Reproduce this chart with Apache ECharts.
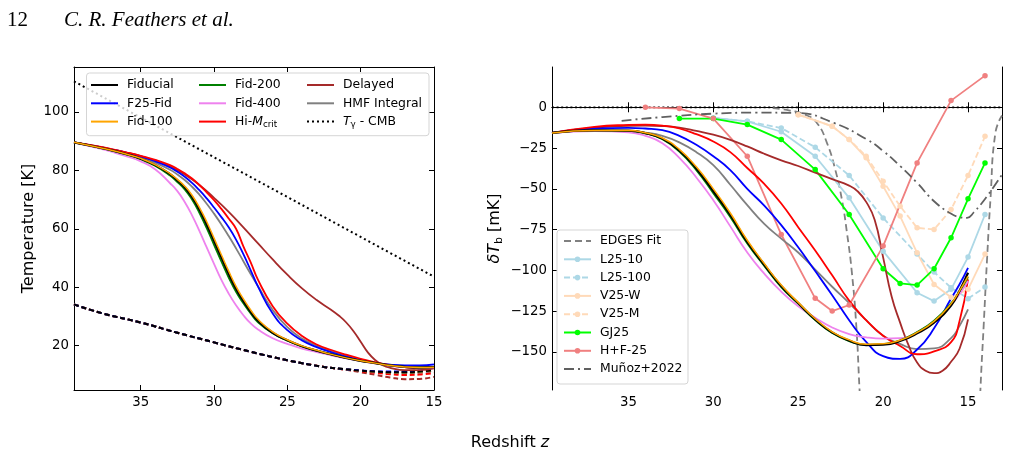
<!DOCTYPE html>
<html>
<head>
<meta charset="utf-8">
<script src="https://cdn.jsdelivr.net/npm/echarts@6/dist/echarts.min.js"></script>
<style>html,body{margin:0;padding:0;background:#fff}#main{width:1009px;height:456px}</style>
</head>
<body>
<div id="main"></div>
<script>
var FONT = 'DejaVu Sans';

// ---- left panel: temperatures [K] ----
var zLeft = [39.55, 38, 37, 36, 35, 34, 33, 32.5, 32, 31.5, 31, 30.5, 30, 29.5, 29, 28.5, 28, 27.5, 27, 26, 25, 24, 23, 22, 21, 20, 19, 18, 17, 16, 15];
var tFiducial = [89.6, 88.0, 86.9, 85.6, 84.0, 81.8, 78.7, 76.6, 74.2, 70.9, 66.6, 61.5, 55.9, 50.2, 44.6, 39.5, 35.3, 31.6, 28.5, 24.4, 21.8, 19.8, 18.3, 17.0, 15.8, 14.8, 14.0, 13.2, 12.7, 12.5, 12.6];
var tF25 = [89.6, 88.2, 87.2, 86.1, 84.8, 83.1, 81.0, 79.5, 77.8, 75.7, 73.2, 70.4, 67.3, 64.0, 60.5, 56.3, 51.3, 45.8, 40.2, 31.0, 25.3, 21.8, 19.5, 17.7, 16.2, 15.0, 14.1, 13.5, 13.2, 13.2, 13.6];
var tFid100 = [89.6, 88.0, 86.9, 85.6, 84.1, 81.9, 78.9, 76.9, 74.6, 71.5, 67.3, 62.4, 56.8, 51.1, 45.5, 40.3, 36.0, 32.2, 29.0, 24.7, 22.0, 19.9, 18.4, 17.0, 15.8, 14.8, 14.0, 13.2, 12.7, 12.5, 12.6];
var tFid200 = [89.6, 88.0, 86.8, 85.5, 83.8, 81.5, 78.2, 76.0, 73.5, 70.0, 65.5, 60.2, 54.5, 48.8, 43.3, 38.4, 34.5, 31.0, 28.0, 24.2, 21.7, 19.7, 18.3, 17.0, 15.8, 14.8, 14.0, 13.2, 12.7, 12.5, 12.6];
var tFid400 = [89.6, 87.7, 86.4, 84.9, 83.1, 80.3, 75.6, 72.9, 69.2, 64.6, 59.3, 53.6, 48.0, 42.5, 37.8, 33.8, 30.4, 27.6, 25.5, 22.5, 20.6, 19.0, 17.8, 16.7, 15.6, 14.7, 13.9, 13.1, 12.6, 12.4, 12.5];
var tHiM = [89.6, 88.3, 87.3, 86.2, 85.0, 83.6, 81.8, 80.5, 79.0, 77.2, 75.0, 72.5, 69.8, 66.8, 63.5, 60.0, 54.0, 48.5, 42.5, 33.5, 27.5, 23.3, 20.4, 18.5, 16.9, 15.5, 14.3, 13.3, 12.6, 12.3, 12.4];
var tHMF = [89.6, 88.1, 87.0, 85.9, 84.5, 82.6, 80.2, 78.6, 76.7, 74.4, 71.7, 68.6, 65.2, 61.5, 57.5, 53.3, 48.9, 44.5, 40.3, 32.2, 26.3, 22.4, 20.0, 18.1, 16.5, 15.2, 14.2, 13.4, 12.9, 12.7, 12.8];
var zDelayed = [39.55, 38, 37, 36, 35, 34, 33, 32, 31, 30, 29, 28, 27, 26, 25, 24, 23, 22, 21.5, 21, 20.5, 20, 19.5, 19, 18.5, 18, 17, 16, 15];
var tDelayed = [89.6, 88.2, 87.2, 86.1, 84.9, 83.3, 81.3, 78.6, 75.0, 70.6, 65.8, 60.5, 55.0, 49.5, 44.3, 39.6, 35.6, 32.2, 30.3, 28.0, 25.0, 21.3, 17.6, 15.0, 13.3, 12.4, 11.6, 11.6, 12.2];
var zCMB = [39.55, 35, 30, 25, 20, 15];
var tCMB = [110.5, 98.1, 84.5, 70.9, 57.2, 43.6];
// dashed curves: shared early part, then one tail per model
var zDash = [39.55, 37.5, 35, 32.5, 30, 27.5, 25, 22.5, 21, 20, 19, 18, 17, 16, 15];
var dashHead = [34.1, 30.9, 27.9, 24.4, 21.1, 17.9, 15.0, 12.7];
var tailFiducial = [11.9, 11.4, 11.1, 10.9, 10.9, 11.1, 11.6];
var tailF25 = [11.9, 11.5, 11.2, 11.1, 11.2, 11.5, 12.1];
var tailFid400 = [11.9, 11.4, 11.1, 10.9, 10.9, 11.1, 11.5];
var tailHiM = [11.8, 11.2, 10.7, 10.2, 9.95, 10.1, 10.6];
var tailDelayed = [11.7, 10.9, 10.0, 9.1, 8.5, 8.6, 9.3];
var tailHMF = [11.8, 11.3, 10.9, 10.6, 10.5, 10.7, 11.2];

// ---- right panel: brightness temperature [mK] ----
var zRight = [39.5, 37, 35, 34, 33, 32, 31, 30, 29, 28, 27, 26, 25, 24, 23, 22, 21, 20, 19, 18, 17, 16, 15.5, 15];
var dFiducial = [-15.7, -14.2, -14.3, -15.8, -19.2, -26.5, -37.5, -51.4, -66.0, -82.5, -96.5, -109.6, -120.0, -130.0, -138.0, -143.0, -145.8, -145.5, -143.3, -138.6, -132.0, -121.5, -112.5, -101.4];
var dF25 = [-15.7, -13.0, -12.6, -13.0, -14.0, -17.5, -23.0, -30.0, -38.5, -50.0, -60.3, -72.2, -85.8, -100.4, -115.2, -130.5, -143.8, -152.5, -154.2, -148.5, -135.5, -117.2, -108.5, -98.4];
var dFid100 = [-15.7, -14.2, -14.2, -15.6, -18.8, -25.8, -36.5, -50.0, -64.8, -81.5, -95.8, -109.0, -119.6, -129.6, -137.6, -142.6, -145.3, -145.0, -142.8, -138.0, -131.2, -120.5, -112.5, -103.5];
var dFid200 = [-15.7, -14.2, -14.4, -16.0, -19.6, -27.2, -38.5, -52.6, -67.2, -83.5, -97.2, -110.2, -120.4, -130.4, -138.3, -143.3, -145.6, -145.2, -142.8, -137.8, -130.8, -120.2, -112.8, -104.0];
var dFid400 = [-15.7, -14.6, -15.3, -17.5, -22.0, -31.0, -43.0, -57.0, -73.0, -89.0, -102.0, -113.0, -122.0, -129.0, -135.0, -139.0, -141.0, -141.8, -141.5, -138.0, -131.0, -121.0, -114.5, -106.5];
var dHiM = [-15.7, -12.0, -10.8, -10.6, -11.2, -13.0, -16.5, -21.0, -27.5, -37.2, -47.0, -59.0, -73.5, -87.8, -103.0, -118.5, -130.5, -140.0, -146.3, -151.4, -149.6, -144.0, -131.0, -105.5];
var dHMF = [-15.7, -14.3, -14.5, -15.5, -17.5, -21.5, -27.5, -35.5, -47.5, -60.0, -71.5, -80.5, -89.0, -99.5, -110.0, -120.0, -130.5, -140.0, -145.0, -148.2, -147.8, -141.5, -134.0, -123.9];
var zDelayedR = [39.5, 37, 35, 34, 33, 32, 31, 30, 29, 28, 27, 26, 25, 24, 23, 22, 21.5, 21, 20.5, 20, 19.5, 19, 18.5, 18, 17.5, 17, 16.5, 16, 15.5, 15];
var dDelayed = [-15.7, -12.5, -11.3, -11.2, -11.5, -12.5, -14.5, -16.8, -20.0, -24.0, -28.5, -32.5, -36.0, -40.0, -44.0, -48.0, -51.5, -58.0, -69.0, -92.0, -116.0, -132.0, -146.0, -156.5, -161.5, -163.0, -161.5, -156.0, -148.0, -130.0];

var zEdgesA = [26.5, 25.5, 24.59, 23.9, 23.31, 22.82, 22.43, 22.13, 21.84, 21.58, 21.39, 21.2];
var dEdgesA = [-0.5, -2, -4.5, -9.6, -21.8, -38.2, -56.5, -76.9, -101.4, -134.1, -172.9, -210];
var zEdgesB = [14.4, 14.27, 14.08, 13.88, 13.68, 13.39, 13.0];
var dEdgesB = [-210, -172.9, -134, -93, -56.5, -15.7, -5];
var zL25 = [30, 28, 26, 24, 22, 20, 18, 17, 16, 15, 14];
var dL25_10 = [-6.5, -8.6, -15.0, -30.0, -55.5, -88.2, -113.7, -118.8, -111.6, -91.8, -65.7];
var dL25_100 = [-6.5, -8.6, -12.7, -24.5, -41.8, -67.8, -90.0, -101.0, -110.6, -117.3, -110.2];
var zV25 = [25, 23, 22, 21, 20, 19, 18, 17, 16, 15, 14];
var dV25_W = [-4.5, -11.6, -19.8, -31.0, -48.4, -66.7, -89.2, -108.6, -116.5, -111.6, -90.0];
var dV25_M = [-4.5, -11.6, -19.8, -30.0, -45.3, -60.6, -73.9, -74.9, -62.7, -41.8, -17.8];
var zGJ = [32, 30, 28, 26, 24, 22, 20, 19, 18, 17, 16, 15, 14];
var dGJ25 = [-6.9, -6.9, -10.6, -19.8, -38.2, -65.7, -99.0, -108.0, -109.0, -99.0, -80.0, -56.1, -34.1];
var zHF = [34, 32, 30, 28, 26, 24, 23, 22, 20, 18, 16, 14];
var dHF25 = [0, -0.8, -6.9, -30.0, -78.0, -117.1, -124.9, -121.2, -85.1, -34.1, 4.1, 19.4];
var zMunoz = [35.4, 33, 30, 27.5, 25.1, 22.9, 20.95, 19.97, 18.99, 18.0, 17.0, 16.04, 15.5, 15.06, 14.67, 13.88, 13.0];
var dMunoz = [-8.3, -6.0, -3.9, -3.3, -3.5, -9.6, -19.8, -27.0, -36.1, -46.3, -57.6, -65.0, -67.3, -67.8, -64.5, -54.5, -41.2];

var xTicks = [15, 20, 25, 30, 35];
var yTicksLeft = [20, 40, 60, 80, 100];
var yTicksRight = [-150, -125, -100, -75, -50, -25, 0];

function pairs(zs, vs) {
  return zs.map(function (z, i) { return [z, vs[i]]; });
}

var series = [];
function addLine(panel, name, zs, vs, color, width, type, extra) {
  var s = {
    type: 'line', name: name, data: pairs(zs, vs),
    xAxisIndex: panel * 2, yAxisIndex: panel * 2,
    symbol: 'none', smooth: true, silent: true, animation: false,
    itemStyle: { color: color },
    lineStyle: { color: color, width: width, type: type || 'solid' }
  };
  if (extra) Object.assign(s, extra);
  series.push(s);
}

// left panel dashed curves
var dashList = [
  ['d-HMF', '#808080', tailHMF], ['d-Delayed', '#a52a2a', tailDelayed], ['d-HiM', '#ff0000', tailHiM],
  ['d-Fid400', '#ee82ee', tailFid400], ['d-Fid200', '#008000', tailFiducial], ['d-Fid100', '#ffa500', tailFiducial],
  ['d-F25', '#0000ff', tailF25], ['d-Fiducial', '#000000', tailFiducial]
];
dashList.forEach(function (d) {
  addLine(0, d[0], zDash, dashHead.concat(d[2]), d[1], 2, [5, 3]);
});
addLine(0, 'Tγ - CMB', zCMB, tCMB, '#000', 2, [2, 3], { smooth: false });
addLine(0, 'HMF Integral', zLeft, tHMF, '#808080', 1.8);
addLine(0, 'Delayed', zDelayed, tDelayed, '#a52a2a', 1.8);
addLine(0, 'F25-Fid', zLeft, tF25, '#0000ff', 1.8);
addLine(0, 'Hi-Mcrit', zLeft, tHiM, '#ff0000', 1.8);
addLine(0, 'Fid-400', zLeft, tFid400, '#ee82ee', 1.8);
addLine(0, 'Fid-200', zLeft, tFid200, '#008000', 1.8);
addLine(0, 'Fiducial', zLeft, tFiducial, '#000000', 2.2);
addLine(0, 'Fid-100', zLeft, tFid100, '#ffa500', 1.5);

// right panel
addLine(1, 'zero', [39.5, 13], [0, 0], '#000', 1.8, [2, 2.6], { smooth: false });
addLine(1, 'EDGES Fit', zEdgesA, dEdgesA, '#808080', 1.8, [7, 4]);
addLine(1, 'EDGES Fit', zEdgesB, dEdgesB, '#808080', 1.8, [7, 4]);
var mk = { symbol: 'circle', symbolSize: 5.5, showSymbol: true, smooth: false };
addLine(1, 'L25-10', zL25, dL25_10, '#add8e6', 1.8, 'solid', mk);
addLine(1, 'L25-100', zL25, dL25_100, '#add8e6', 1.8, [6, 3], mk);
addLine(1, 'V25-W', zV25, dV25_W, '#ffdab9', 1.8, 'solid', mk);
addLine(1, 'V25-M', zV25, dV25_M, '#ffdab9', 1.8, [6, 3], mk);
addLine(1, 'GJ25', zGJ, dGJ25, '#00ff00', 1.8, 'solid', mk);
addLine(1, 'H+F-25', zHF, dHF25, '#f08080', 1.8, 'solid', mk);
addLine(1, 'Muñoz+2022', zMunoz, dMunoz, '#606060', 1.8, [10, 4, 2, 4]);
addLine(1, 'HMF Integral', zRight, dHMF, '#808080', 1.8);
addLine(1, 'Delayed', zDelayedR, dDelayed, '#a52a2a', 1.8);
addLine(1, 'F25-Fid', zRight, dF25, '#0000ff', 1.8);
addLine(1, 'Hi-Mcrit', zRight, dHiM, '#ff0000', 1.8);
addLine(1, 'Fid-400', zRight, dFid400, '#ee82ee', 1.8);
addLine(1, 'Fid-200', zRight, dFid200, '#008000', 1.8);
addLine(1, 'Fiducial', zRight, dFiducial, '#000000', 2.2);
addLine(1, 'Fid-100', zRight, dFid100, '#ffa500', 1.5);

function xAx(grid, min, max, pos, labels) {
  return {
    type: 'value', gridIndex: grid, inverse: true, min: min, max: max, position: pos,
    axisLine: { show: true, lineStyle: { color: '#000', width: 1 } },
    axisTick: { show: true, inside: true, length: 5, customValues: xTicks, lineStyle: { color: '#000' } },
    axisLabel: { show: labels, customValues: xTicks, margin: 6, fontFamily: FONT, fontSize: 13.3, color: '#000' },
    splitLine: { show: false }
  };
}
function yAx(grid, min, max, pos, labels, ticks, extra) {
  var a = {
    type: 'value', gridIndex: grid, min: min, max: max, position: pos,
    axisLine: { show: true, onZero: false, lineStyle: { color: '#000', width: 1 } },
    axisTick: { show: true, inside: true, length: 5, customValues: ticks, lineStyle: { color: '#000' } },
    axisLabel: {
      show: labels, customValues: ticks, margin: 5, fontFamily: FONT, fontSize: 13.3, color: '#000',
      formatter: function (v) { return v < 0 ? '\u2212' + Math.abs(v) : String(v); }
    },
    splitLine: { show: false }
  };
  if (extra) Object.assign(a, extra);
  return a;
}

var richText = {
  n: { fontFamily: FONT, fontSize: 12.4, color: '#000', lineHeight: 16 },
  i: { fontFamily: FONT, fontSize: 12.4, fontStyle: 'italic', color: '#000', lineHeight: 16 },
  s: { fontFamily: FONT, fontSize: 8.8, color: '#000', lineHeight: 9, verticalAlign: 'bottom' }
};
function legendFmt(name) {
  if (name === 'Hi-Mcrit') return '{n|Hi-}{i|M}{s|crit}';
  if (name === 'Tγ - CMB') return '{i|T}{s|γ}{n| - CMB}';
  return name;
}
// line-only legend entries: hide the marker that ECharts adds to line icons
var noMark = { color: 'rgba(0,0,0,0)', borderWidth: 0 };
function items(names, plain) {
  return names.map(function (n) {
    return plain.indexOf(n) >= 0 ? { name: n, itemStyle: noMark } : { name: n };
  });
}
function leg(data, left, top) {
  return {
    data: data, left: left, top: top, orient: 'vertical', padding: 0,
    itemWidth: 27, itemHeight: 7, itemGap: 2.3, selectedMode: false, z: 10,
    formatter: legendFmt,
    textStyle: { fontFamily: FONT, fontSize: 12.4, color: '#000', lineHeight: 16, padding: [0, 0, 0, 4], rich: richText }
  };
}
var leftNames = ['Fiducial', 'F25-Fid', 'Fid-100', 'Fid-200', 'Fid-400', 'Hi-Mcrit', 'Delayed', 'HMF Integral', 'Tγ - CMB', 'EDGES Fit', 'Muñoz+2022'];

var option = {
  animation: false,
  backgroundColor: '#fff',
  grid: [
    { left: 74, top: 67, width: 360, height: 323 },
    { left: 552, top: 67, width: 450, height: 323 }
  ],
  xAxis: [
    xAx(0, 15, 39.55, 'bottom', true), xAx(0, 15, 39.55, 'top', false),
    xAx(1, 13, 39.5, 'bottom', true), xAx(1, 13, 39.5, 'top', false)
  ],
  yAxis: [
    yAx(0, 4.8, 115.4, 'left', true, yTicksLeft, {
      name: 'Temperature [K]', nameLocation: 'middle', nameGap: 37,
      nameTextStyle: { fontFamily: FONT, fontSize: 16, color: '#000' }
    }),
    yAx(0, 4.8, 115.4, 'right', false, yTicksLeft),
    yAx(1, -173.3, 24.7, 'left', true, yTicksRight, {
      name: '{i|δT}{s|b}{n| [mK]}', nameLocation: 'middle', nameGap: 47,
      nameTextStyle: {
        fontFamily: FONT, fontSize: 16, color: '#000',
        rich: {
          i: { fontFamily: FONT, fontSize: 16, fontStyle: 'italic', color: '#000', lineHeight: 20 },
          s: { fontFamily: FONT, fontSize: 11, color: '#000', lineHeight: 11, verticalAlign: 'bottom' },
          n: { fontFamily: FONT, fontSize: 16, color: '#000', lineHeight: 20 }
        }
      }
    }),
    yAx(1, -173.3, 24.7, 'right', false, yTicksRight)
  ],
  legend: [
    leg(items(['Fiducial', 'F25-Fid', 'Fid-100'], leftNames), 90, 77),
    leg(items(['Fid-200', 'Fid-400', 'Hi-Mcrit'], leftNames), 198, 77),
    leg(items(['Delayed', 'HMF Integral', 'Tγ - CMB'], leftNames), 306, 77),
    leg(items(['EDGES Fit', 'L25-10', 'L25-100', 'V25-W', 'V25-M', 'GJ25', 'H+F-25', 'Muñoz+2022'], leftNames), 563, 233)
  ],
  graphic: [
    { type: 'rect', z: 9, shape: { x: 86.5, y: 73, width: 342.5, height: 62.7, r: 3 },
      style: { fill: 'rgba(255,255,255,0.8)', stroke: '#d5d5d5', lineWidth: 1 } },
    { type: 'rect', z: 9, shape: { x: 557, y: 230, width: 131, height: 154, r: 3 },
      style: { fill: 'rgba(255,255,255,0.8)', stroke: '#d5d5d5', lineWidth: 1 } },
    { type: 'text', x: 7, y: 20, style: { text: '12', font: '21px "Liberation Serif"', fill: '#000', verticalAlign: 'middle' } },
    { type: 'text', x: 64, y: 20, style: { text: 'C. R. Feathers et al.', font: 'italic 21px "Liberation Serif"', fill: '#000', verticalAlign: 'middle' } },
    { type: 'text', x: 510, y: 443, style: {
        text: '{n|Redshift }{i|z}', align: 'center', verticalAlign: 'middle',
        rich: {
          n: { fontFamily: FONT, fontSize: 16, fill: '#000' },
          i: { fontFamily: FONT, fontSize: 16, fontStyle: 'italic', fill: '#000' }
        } } }
  ],
  series: series
};

var myChart = echarts.init(document.getElementById('main'));
myChart.setOption(option);
</script>
</body>
</html>
